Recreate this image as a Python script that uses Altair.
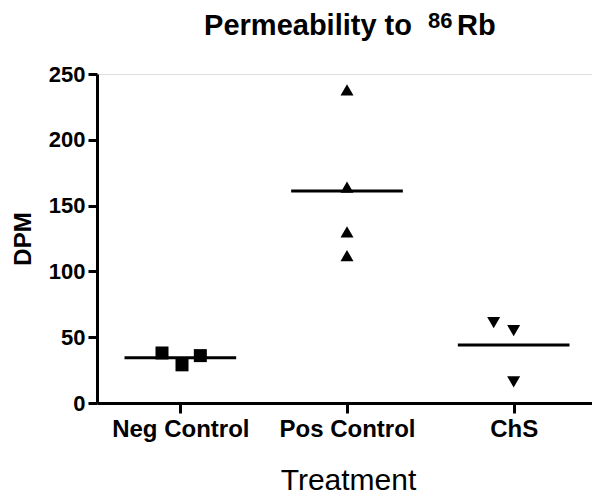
import json
import altair as alt
import pandas as pd

# ---- data ----
categories = ["Neg Control", "Pos Control", "ChS"]
neg_values = [38, 29, 36]
pos_values = [238, 164, 130, 112]
chs_values = [61, 55, 16]
neg_jitter = [-0.11, 0.01, 0.12]
pos_jitter = [0.0, 0.0, 0.0, 0.0]
chs_jitter = [-0.12, 0.0, 0.0]
shapes = ["square", "triangle-up", "triangle-down"]
y_ticks = [0, 50, 100, 150, 200, 250]
title_main = ["Permeability to"]
title_sup = ["86"]
title_end = ["Rb"]
x_title = "Treatment"
y_title = "DPM"

FONT = "Liberation Sans"
HALF = 0.335  # half-width of mean line, in category steps

rows = []
for i, (vals, jit) in enumerate([(neg_values, neg_jitter), (pos_values, pos_jitter), (chs_values, chs_jitter)]):
    for v, j in zip(vals, jit):
        rows.append({"group": categories[i], "idx": i, "pos": i + j, "value": v})
df = pd.DataFrame(rows)

label_expr = json.dumps(categories) + "[datum.value]"

x_scale = alt.Scale(domain=[-0.5, 2.47], nice=False, zero=False)
y_scale = alt.Scale(domain=[0, 250], nice=False)

x_axis = alt.Axis(
    values=[0, 1, 2], labelExpr=label_expr, grid=False,
    labelFont=FONT, labelFontSize=24, labelFontWeight="bold", labelColor="black",
    labelBaseline="alphabetic", labelPadding=23, labelLimit=400,
    tickSize=10, tickWidth=3, tickColor="black",
    domainWidth=3, domainColor="black",
    title=x_title, titleFont=FONT, titleFontSize=30, titleFontWeight="normal",
    titleColor="black", titleX=251, titleY=86, titleBaseline="alphabetic",
    titleAlign="center",
)
y_axis = alt.Axis(
    values=y_ticks, grid=False,
    labelFont=FONT, labelFontSize=22, labelFontWeight="bold", labelColor="black",
    labelPadding=3, tickSize=9, tickWidth=3, tickColor="black",
    domainWidth=3, domainColor="black",
    title=y_title, titleFont=FONT, titleFontSize=24, titleFontWeight="bold",
    titleColor="black", titleX=-74, titleY=164.5, titleAngle=270,
    titleAlign="center", titleBaseline="middle",
)

base = alt.Chart(df)

points = base.mark_point(filled=True, size=169, color="black", opacity=1).encode(
    x=alt.X("pos:Q", scale=x_scale, axis=x_axis),
    y=alt.Y("value:Q", scale=y_scale, axis=y_axis),
    shape=alt.Shape("group:N", scale=alt.Scale(domain=categories, range=shapes), legend=None),
)

means = base.transform_aggregate(
    mean="mean(value)", groupby=["idx"]
).transform_calculate(
    x1=f"datum.idx - {HALF}", x2=f"datum.idx + {HALF}"
).mark_rule(color="black", strokeWidth=3).encode(
    x=alt.X("x1:Q", scale=x_scale),
    x2="x2:Q",
    y=alt.Y("mean:Q", scale=y_scale),
)

t1 = alt.Chart(pd.DataFrame({"t": title_main})).mark_text(
    font=FONT, fontSize=29, fontWeight="bold", color="black", align="right", baseline="alphabetic"
).encode(x=alt.value(315), y=alt.value(-39), text="t:N")
t2 = alt.Chart(pd.DataFrame({"t": title_sup})).mark_text(
    font=FONT, fontSize=22, fontWeight="bold", color="black", align="left", baseline="alphabetic"
).encode(x=alt.value(331), y=alt.value(-46), text="t:N")
t3 = alt.Chart(pd.DataFrame({"t": title_end})).mark_text(
    font=FONT, fontSize=29, fontWeight="bold", color="black", align="left", baseline="alphabetic"
).encode(x=alt.value(360), y=alt.value(-39), text="t:N")

chart = alt.layer(means, points, t1, t2, t3).properties(
    width=495, height=329,
    autosize=alt.AutoSizeParams(type="none"),
    padding={"left": 89, "top": 66, "right": 0, "bottom": 93},
).configure_view(strokeWidth=0).configure(background="white")

chart.save("out.html", embed_options={"renderer": "svg", "actions": False})
